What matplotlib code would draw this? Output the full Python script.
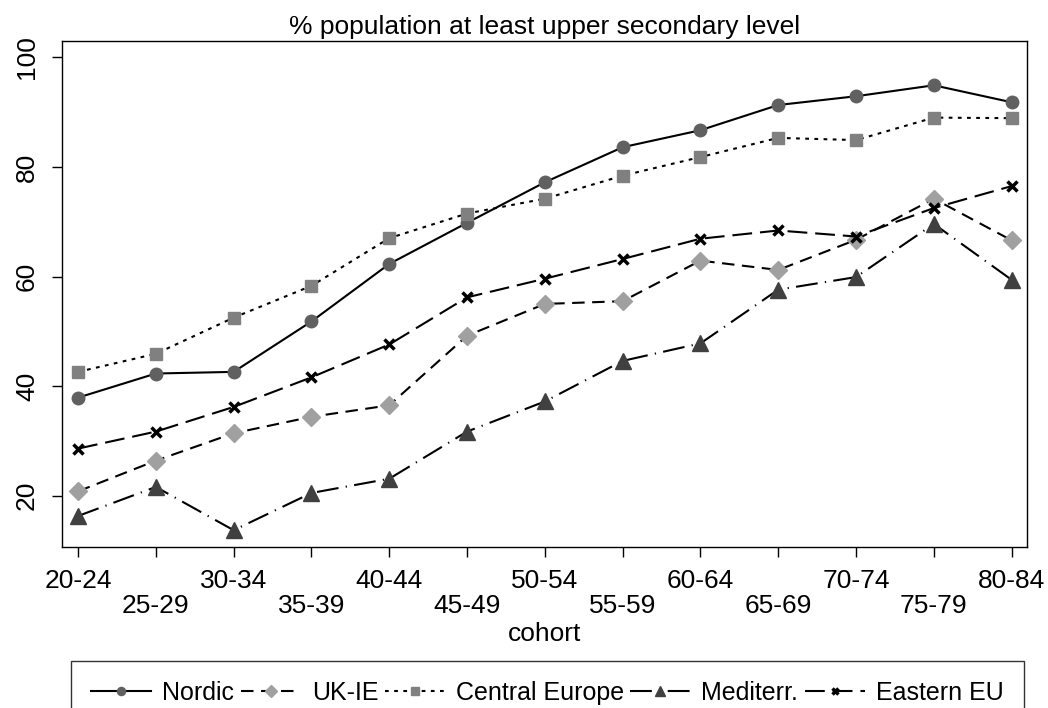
import matplotlib
matplotlib.use('Agg')
import matplotlib.pyplot as plt

plt.rcParams['font.family'] = ['Liberation Sans', 'DejaVu Sans']

cohorts = ['20-24', '25-29', '30-34', '35-39', '40-44', '45-49', '50-54',
           '55-59', '60-64', '65-69', '70-74', '75-79', '80-84']
nordic = [37.9, 42.3, 42.6, 51.8, 62.3, 69.8, 77.2, 83.6, 86.7, 91.3, 92.9, 94.9, 91.8]
uk_ie = [20.8, 26.4, 31.4, 34.4, 36.5, 49.2, 55.0, 55.5, 62.9, 61.2, 66.7, 74.2, 66.6]
central = [42.6, 45.9, 52.5, 58.3, 67.0, 71.5, 74.2, 78.4, 81.8, 85.3, 84.9, 89.0, 88.9]
mediterr = [16.3, 21.6, 13.7, 20.5, 23.1, 31.7, 37.2, 44.6, 47.8, 57.6, 59.9, 69.6, 59.4]
eastern = [28.6, 31.7, 36.2, 41.6, 47.6, 56.2, 59.6, 63.2, 66.9, 68.4, 67.3, 72.5, 76.5]

x = list(range(len(cohorts)))

fig = plt.figure(figsize=(10.48, 7.08), dpi=100)
ax = fig.add_axes([0.0592, 0.2274, 0.9208, 0.7146])

lw = 1.5
ax.plot(x, nordic, color='black', lw=lw, linestyle='-', marker='o', ms=9,
        mfc='#606060', mec='#606060', label='Nordic')
ax.plot(x, uk_ie, color='black', lw=lw, linestyle=(0, (6, 3.6)), marker='D', ms=8.8,
        mfc='#a0a0a0', mec='#a0a0a0', label='UK-IE')
ax.plot(x, central, color='black', lw=lw, linestyle=(0, (1.8, 2.6)), marker='s', ms=9,
        mfc='#808080', mec='#808080', label='Central Europe')
ax.plot(x, mediterr, color='black', lw=lw, linestyle=(0, (10.5, 3.5, 0.6, 3.5)), marker='^', ms=11,
        mfc='#404040', mec='#404040', label='Mediterr.')
ax.plot(x, eastern, color='black', lw=lw, linestyle=(0, (9.5, 3.8)), marker='x', ms=7,
        mew=2.5, mec='black', label='Eastern EU')

ax.set_xlim(-0.206, 12.198)
ax.set_ylim(10.64, 102.97)
ax.set_xticks(x)
ax.set_xticklabels([c if i % 2 == 0 else '\n' + c for i, c in enumerate(cohorts)],
                   fontsize=19, linespacing=1.07)
ax.set_yticks([20, 40, 60, 80, 100])
ax.set_yticklabels(['20', '40', '60', '80', '100'], fontsize=19, rotation=90, va='center')
ax.tick_params(direction='out', length=7.5, width=1)
ax.tick_params(axis='x', pad=8)
ax.tick_params(axis='y', pad=9)
ax.set_xlabel('cohort', fontsize=19, labelpad=3)
ax.set_title('% population at least upper secondary level', fontsize=19, pad=5)
for s in ax.spines.values():
    s.set_linewidth(1)

fig.legend(loc='upper left', bbox_to_anchor=(71 / 1048, 1 - 661 / 708),
           ncol=5, fontsize=18, frameon=True, fancybox=False,
           edgecolor='black', handlelength=2.4, handletextpad=0.45, columnspacing=0.25,
           markerscale=0.65, borderaxespad=0, borderpad=0.8)

fig.savefig('out.png', dpi=100)
